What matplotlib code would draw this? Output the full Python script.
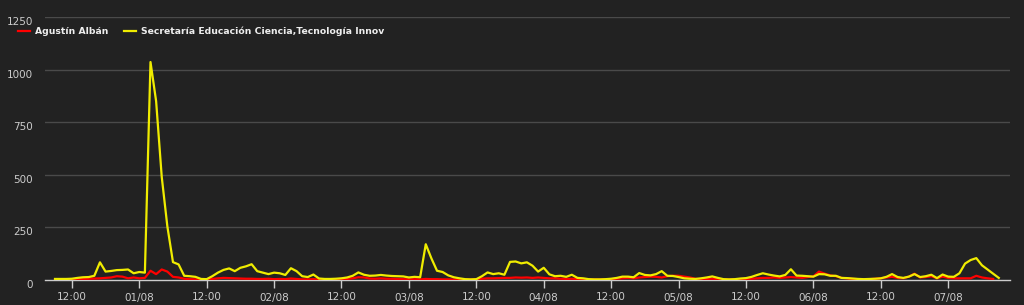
import matplotlib
matplotlib.use("Agg")
import matplotlib.pyplot as plt
import numpy as np
import pandas as pd

# ---- data (hourly, from 31/07 09:00) ----
start = pd.Timestamp("2017-07-31 09:00")
series_names = ["Agustín Albán", "Secretaría Educación Ciencia,Tecnología Innov"]
series_colors = ["#ff0000", "#f0ec00"]

albán = [0, 1, 2, 3, 5, 5, 6, 7, 8, 10, 12, 18, 16, 8, 12, 8, 10, 44, 28, 50,
         40, 15, 12, 6, 4, 3, 2, 3, 5, 8, 10, 9, 8, 7, 6, 6, 5, 5, 6, 4,
         5, 4, 7, 5, 3, 3, 4, 2, 2, 2, 3, 4, 5, 8, 13, 12, 7, 6, 8, 6,
         6, 5, 4, 3, 4, 3, 5, 4, 4, 3, 3, 2, 2, 2, 2, 3, 6, 8, 8, 9,
         10, 10, 12, 11, 12, 10, 12, 10, 8, 8, 6, 5, 6, 4, 3, 2, 2, 2, 3, 4,
         6, 8, 10, 8, 12, 14, 16, 15, 12, 18, 20, 20, 16, 12, 6, 4, 5, 6, 4, 3,
         2, 3, 4, 5, 6, 8, 10, 10, 12, 10, 12, 14, 12, 10, 14, 17, 40, 30, 22, 18,
         10, 8, 5, 4, 3, 4, 6, 8, 12, 15, 10, 8, 16, 30, 12, 14, 18, 8, 16, 10,
         8, 8, 8, 8, 20, 12, 8, 5]

secretaria = [5, 5, 5, 6, 10, 13, 14, 20, 84, 40, 43, 47, 48, 50, 32, 38, 35, 1036, 850, 490,
              255, 85, 74, 20, 18, 15, 5, 4, 18, 35, 48, 55, 42, 58, 65, 75, 42, 35, 28, 35,
              32, 24, 56, 42, 18, 14, 26, 7, 5, 5, 6, 8, 12, 20, 36, 25, 20, 21, 24, 21,
              19, 18, 17, 12, 15, 13, 170, 103, 44, 38, 22, 13, 8, 4, 3, 4, 18, 36, 28, 32,
              25, 86, 88, 79, 84, 68, 40, 58, 27, 18, 20, 15, 25, 10, 8, 4, 3, 3, 4, 6,
              10, 16, 16, 13, 33, 24, 22, 28, 42, 20, 19, 14, 8, 6, 5, 8, 12, 17, 10, 4,
              3, 4, 7, 9, 15, 24, 32, 26, 21, 17, 24, 51, 21, 20, 18, 16, 28, 27, 20, 20,
              10, 9, 7, 5, 4, 5, 6, 8, 15, 28, 14, 10, 16, 28, 14, 18, 25, 9, 26, 16,
              15, 32, 78, 95, 104, 70, 50, 30, 10]

y_ticks = [0, 250, 500, 750, 1000, 1250]

times_y = pd.date_range(start, periods=len(secretaria), freq="h")
times_r = pd.date_range(start, periods=len(albán), freq="h")

BG = "#222222"
fig = plt.figure(figsize=(10.24, 3.05), dpi=100, facecolor=BG)
ax = fig.add_axes([45 / 1024, 1 - 280 / 305, (1010 - 45) / 1024, (280 - 17) / 305])
ax.set_facecolor(BG)

for v in y_ticks[1:]:
    ax.axhline(v, color="#4a4a4a", lw=1.0, zorder=1)

ax.plot(times_r, albán, color=series_colors[0], lw=1.6, label=series_names[0], zorder=3)
ax.plot(times_y, secretaria, color=series_colors[1], lw=1.6, label=series_names[1], zorder=4)

ax.set_ylim(0, 1250)
ax.set_yticks(y_ticks)
ax.set_xlim(start - pd.Timedelta(hours=1.78), start + pd.Timedelta(hours=170))

# x ticks every 12h
tick_times = pd.date_range("2017-07-31 12:00", "2017-08-07 00:00", freq="12h")
ax.set_xticks(tick_times)
ax.set_xticklabels([t.strftime("%H:%M") if t.hour == 12 else t.strftime("%d/%m") for t in tick_times])

for s in ["top", "right", "left"]:
    ax.spines[s].set_visible(False)
ax.spines["bottom"].set_color("#cccccc")
ax.spines["bottom"].set_linewidth(1.0)
ax.tick_params(axis="x", colors="#cccccc", length=6, width=1, labelsize=7.5, pad=3, labelcolor="#cccccc")
ax.tick_params(axis="y", length=0, labelsize=7.5, pad=8.5, labelcolor="#cccccc")
for lbl in ax.get_yticklabels():
    lbl.set_va("top")
    lbl.set_y(lbl.get_position()[1])
ax.tick_params(axis="y")

leg = ax.legend(loc="upper left", bbox_to_anchor=(14 / 1024, 1 - 23 / 305), bbox_transform=fig.transFigure,
                ncol=2, frameon=False, handlelength=1.35, handletextpad=0.55, columnspacing=1.6,
                prop={"size": 6.7, "weight": "bold"}, borderaxespad=0)
for t in leg.get_texts():
    t.set_color("#eeeeee")

fig.savefig("out.png", dpi=100, facecolor=BG)
